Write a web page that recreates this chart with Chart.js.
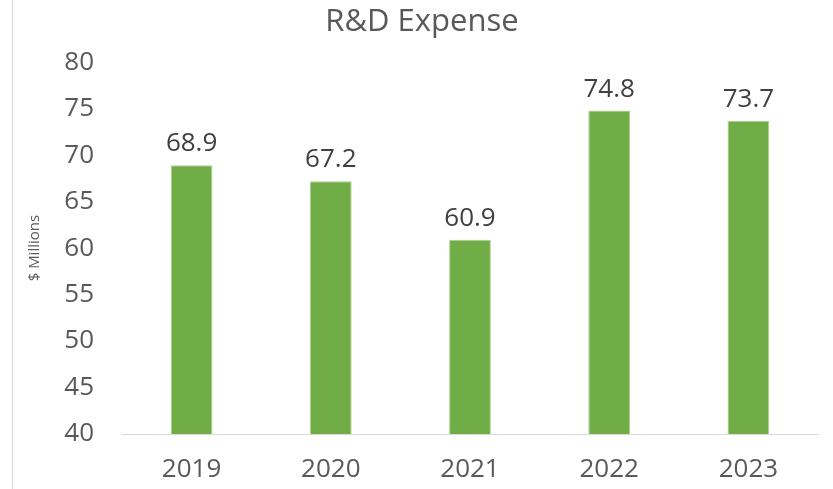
<!DOCTYPE html>
<html><head><meta charset="utf-8">
<script src="https://cdn.jsdelivr.net/npm/chart.js@4.4.0/dist/chart.umd.min.js"></script>
<style>
html,body{margin:0;padding:0;background:#fff;}
#wrap{position:relative;width:833px;height:489px;}
#edge{position:absolute;left:12px;top:0;width:0;height:489px;border-left:1px solid #d9d9d9;}
</style></head>
<body><div id="wrap"><div id="edge"></div><canvas id="c" width="833" height="489"></canvas></div>
<script>
const categories = ["2019","2020","2021","2022","2023"];
const values = [68.9, 67.2, 60.9, 74.8, 73.7];
const yTicks = [40,45,50,55,60,65,70,75,80];
const titleText = "R&D Expense";
const yTitle = "$ Millions";

const FONT = "'Open Sans', sans-serif";
const labelPlugin = {
  id:'valueLabels',
  afterDatasetsDraw(chart){
    const ctx = chart.ctx;
    const meta = chart.getDatasetMeta(0);
    ctx.save();
    ctx.font = "26px " + FONT;
    ctx.fillStyle = "#404040";
    ctx.textAlign = "center";
    ctx.textBaseline = "alphabetic";
    meta.data.forEach((bar,i)=>{
      ctx.fillText(values[i].toFixed(1), bar.x, bar.y - 14);
    });
    ctx.restore();
  }
};

new Chart(document.getElementById('c'), {
  type:'bar',
  data:{labels:categories, datasets:[{data:values, backgroundColor:'#70AD47', borderColor:'#A9D18E', borderWidth:1, barPercentage:0.3, categoryPercentage:1}]},
  options:{
    responsive:false, animation:false,
    layout:{padding:{left:26,right:15,top:0,bottom:0}},
    plugins:{
      legend:{display:false}, tooltip:{enabled:false},
      title:{display:true, text:titleText, color:'#595959', font:{family:FONT,size:31,weight:'normal'}, padding:{top:4,bottom:21}}
    },
    scales:{
      x:{
        grid:{display:false, drawTicks:false},
        border:{display:true,color:'#d9d9d9',width:1},
        ticks:{color:'#595959', font:{family:FONT,size:26}, padding:20},
        afterFit(s){s.height=55;}
      },
      y:{
        min:40,max:80,
        afterBuildTicks(s){s.ticks = yTicks.map(v=>({value:v}));},
        grid:{display:false, drawTicks:false},
        border:{display:false},
        ticks:{color:'#595959', font:{family:FONT,size:26}, padding:28},
        title:{display:true,text:yTitle,color:'#595959',font:{family:FONT,size:15},padding:{top:0,bottom:0}},
        afterFit(s){s.width=96;}
      }
    }
  },
  plugins:[labelPlugin]
});
</script></body></html>
